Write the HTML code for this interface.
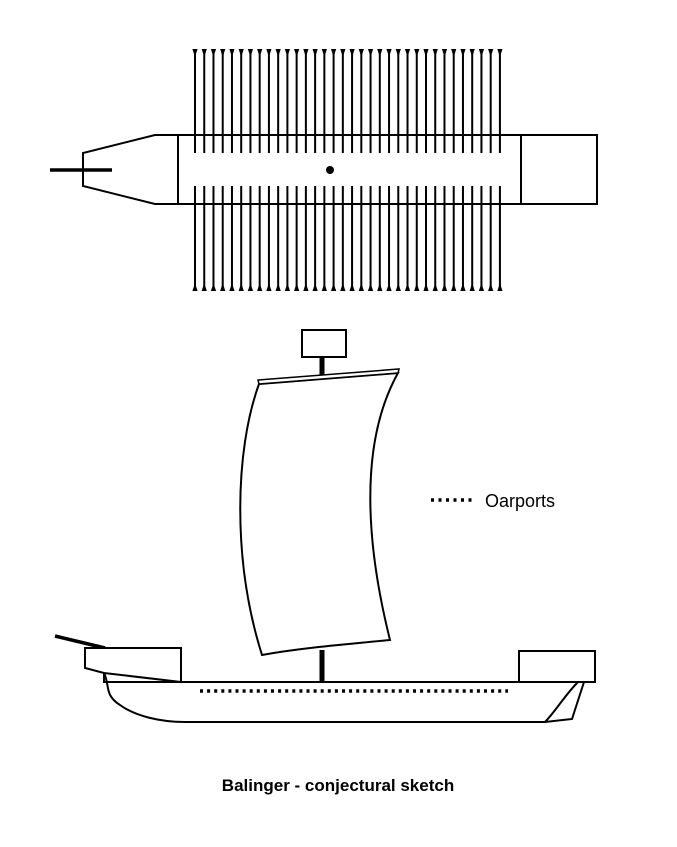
<!DOCTYPE html>
<html><head><style>
html,body{margin:0;padding:0;background:#fff;}
svg{display:block;}
text{font-family:"Liberation Sans",Arial,sans-serif;}
</style></head><body>
<svg width="677" height="847" viewBox="0 0 677 847" xmlns="http://www.w3.org/2000/svg">
<g stroke="#000" stroke-width="2" fill="none">
<path d="M155,135 L597,135 L597,204 L155,204 L83,186 L83,153 Z" fill="#fff"/>
<line x1="178" y1="135" x2="178" y2="204"/>
<line x1="521" y1="135" x2="521" y2="204"/>
<line x1="50" y1="170" x2="112" y2="170" stroke-width="3.5"/>
</g>
<circle cx="330" cy="170" r="4" fill="#000"/>
<g id="oars" stroke="#000" stroke-width="2"></g>
<g stroke="#000" stroke-width="2" fill="#fff">
<line x1="55" y1="636" x2="105" y2="648" stroke-width="3.5"/>
<path d="M104,673 C110,685 104,695 120,705 C135,716 160,722 185,722 L545,722 L572,719 L584,682 L104,682 Z"/>
<path d="M545,722 C555,712 565,695 578,682" fill="none"/>
<path d="M85,648 L181,648 L181,682 L104,673 L85,668 Z"/>
<line x1="181" y1="682" x2="595" y2="682"/>
<rect x="519" y="651" width="76" height="31"/>
<rect x="302" y="330" width="44" height="27"/>
</g>
<line x1="322" y1="357" x2="322" y2="378" stroke="#000" stroke-width="5"/>
<line x1="322" y1="650" x2="322" y2="682" stroke="#000" stroke-width="5"/>
<path d="M259,384 C235,450 232,560 262,655 C300,648 340,645 390,640 C370,560 355,450 398,373 Z" fill="#fff" stroke="#000" stroke-width="2"/>
<path d="M258,380 L399,369 L398,373 L259,384 Z" fill="#fff" stroke="#000" stroke-width="1.5"/>
<line x1="200" y1="691" x2="508" y2="691" stroke="#000" stroke-width="3.5" stroke-dasharray="3,4.1"/>
<line x1="431" y1="500" x2="473" y2="500" stroke="#000" stroke-width="3.5" stroke-dasharray="3,4.5"/>
<text x="485" y="507" font-size="18">Oarports</text>
<text x="338" y="791" font-size="17" font-weight="bold" text-anchor="middle">Balinger - conjectural sketch</text>
</svg>
<script>
var g=document.getElementById('oars'),s='';
for(var i=0;i<34;i++){var x=195+i*9.24;
s+='<line x1="'+x+'" y1="50" x2="'+x+'" y2="153"/><path d="M'+(x-2.6)+',49 L'+(x+2.6)+',49 L'+x+',57 Z" fill="#000" stroke="none"/>';
s+='<line x1="'+x+'" y1="186" x2="'+x+'" y2="290"/><path d="M'+(x-2.6)+',291 L'+(x+2.6)+',291 L'+x+',283 Z" fill="#000" stroke="none"/>';}
g.innerHTML=s;
</script>
</body></html>
